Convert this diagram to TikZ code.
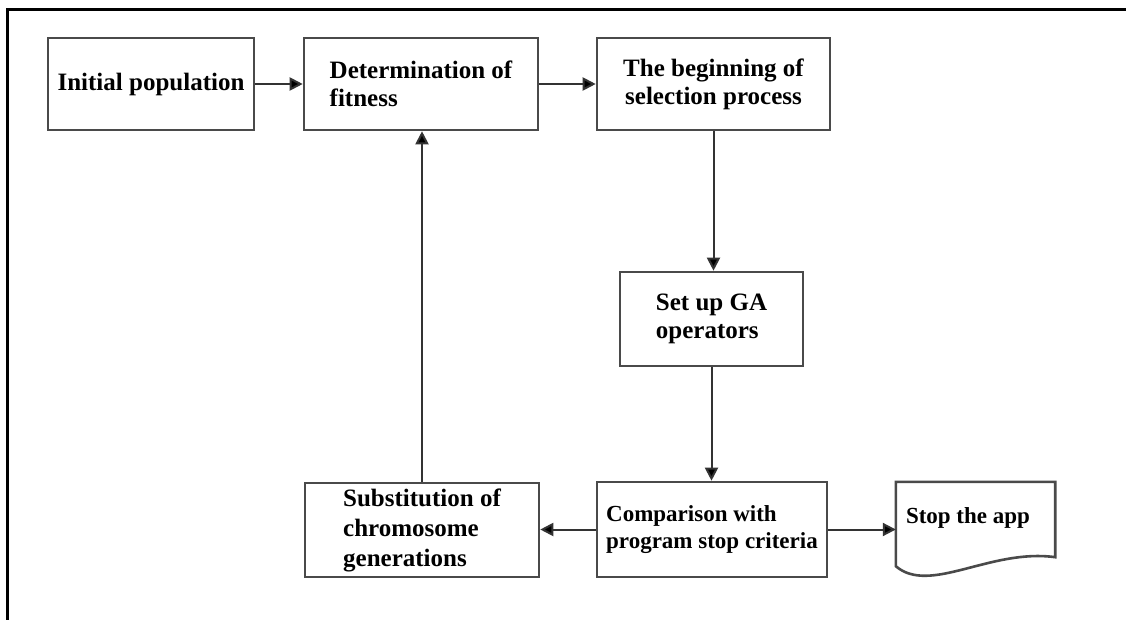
\documentclass[tikz,border=0pt]{standalone}
\usepackage{fontspec}
\setmainfont{Liberation Serif}
\usetikzlibrary{arrows.meta}
\definecolor{boxline}{HTML}{4A4A4A}
\definecolor{arrline}{HTML}{333333}
\tikzset{
  box/.style={draw=boxline, line width=2.6bp, fill=white, rectangle, inner sep=0pt,
    font=\fontsize{25bp}{28bp}\selectfont\bfseries},
  smallbox/.style={box, font=\fontsize{23bp}{27bp}\selectfont\bfseries},
  conn/.style={draw=arrline, line width=2bp, -{Triangle[length=13bp,width=13bp,fill=black]}},
  frame/.style={draw=black, line width=2.7bp}
}
\begin{document}
\begin{tikzpicture}[x=1bp,y=-1bp]
\useasboundingbox (0,0) rectangle (1126,620);
\fill[white] (0,0) rectangle (1126,620);
\coordinate (fr1) at (1126,9.5);
\coordinate (fr2) at (7.3,9.5);
\coordinate (fr3) at (7.3,620);
\draw[frame] (fr1) -- (fr2) -- (fr3);

\node[box, minimum width=206bp, minimum height=92bp] (init) at (151,84) {Initial population};
\node[box, minimum width=234bp, minimum height=92bp, align=left] (det) at (421,84) {Determination of\\fitness};
\node[box, minimum width=233bp, minimum height=92bp, align=center] (beg) at (713.5,84) {The beginning of\\selection process};
\node[box, minimum width=183bp, minimum height=94bp, align=left] (setup) at (711.5,319) {Set up GA\\operators};
\node[smallbox, minimum width=230bp, minimum height=95bp, align=left] (cmp) at (712,529.5) {Comparison with\\program stop criteria};
\node[box, minimum width=234bp, minimum height=94bp, align=left, font=\fontsize{25bp}{30bp}\selectfont\bfseries] (sub) at (422,530) {Substitution of\\chromosome\\generations};

% document-shaped terminal
\node[rectangle, minimum width=159bp, minimum height=84bp, inner sep=0pt] (stop) at (975.5,524) {};
\draw[boxline, line width=2.6bp, line join=miter]
  (stop.south west) -- (stop.north west) -- (stop.north east) -- ([yshift=9bp]stop.south east)
  .. controls ([xshift=-65bp,yshift=18bp]stop.south east) and ([xshift=34bp,yshift=-29bp]stop.south west) .. (stop.south west) -- cycle;
\node[anchor=base west, inner sep=0pt, font=\fontsize{23bp}{27bp}\selectfont\bfseries] (stoptext) at ([xshift=10bp,yshift=1bp]stop.west) {Stop the app};

\draw[conn] (init.east) -- (det.west);
\draw[conn] (det.east) -- (beg.west);
\draw[conn] (beg.south) -- (beg.south |- setup.north);
\draw[conn] (setup.south) -- (setup.south |- cmp.north);
\draw[conn] (cmp.west) -- (cmp.west -| sub.east);
\draw[conn] (cmp.east) -- (cmp.east -| stop.west);
\draw[conn] (sub.north) -- (sub.north |- det.south);
\end{tikzpicture}
\end{document}
